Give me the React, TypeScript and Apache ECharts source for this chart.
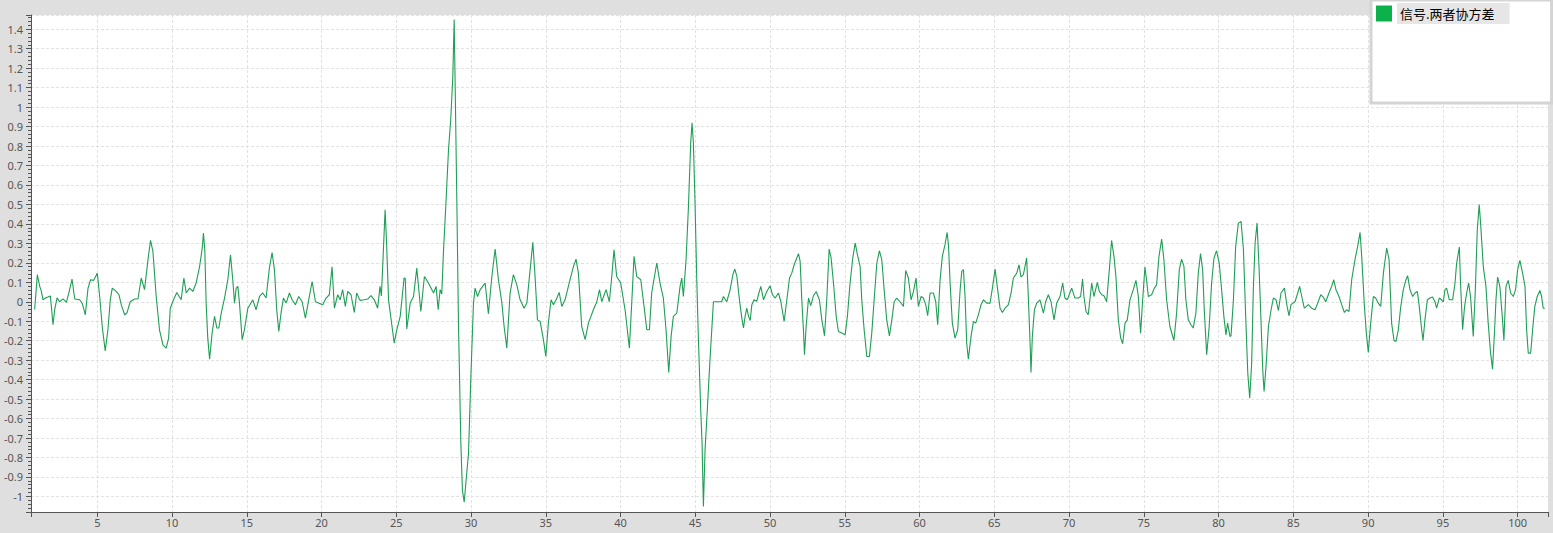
import React, { useEffect, useRef } from "react";
import * as echarts from "echarts";

// Signal samples [time, value], in segments
const segA = [[0.81,-0.04],[0.99,0.139],[1.15,0.079],[1.26,0.053],[1.37,0.01],[1.55,0.02],[1.70,0.024],[1.86,0.03],[2.04,-0.118],[2.15,-0.04],[2.31,0.02],[2.48,0],[2.71,0.015],[2.93,-0.003],[3.11,0.05],[3.31,0.116],[3.49,0.014],[3.82,0.01],[4.0,-0.01],[4.2,-0.067],[4.38,0.07],[4.55,0.113],[4.76,0.11],[5.0,0.147],[5.16,0.027],[5.33,-0.127],[5.53,-0.252],[5.71,-0.144],[5.87,0.01],[6.0,0.07],[6.27,0.053],[6.45,0.036],[6.6,-0.015],[6.83,-0.067],[6.98,-0.058],[7.2,0],[7.49,0.014],[7.72,0.014],[7.94,0.122],[8.16,0.062],[8.39,0.216],[8.56,0.315],[8.72,0.259],[8.94,0.027],[9.16,-0.144],[9.39,-0.221],[9.61,-0.238],[9.77,-0.187],[9.88,-0.033],[10.1,0.01],[10.32,0.048],[10.61,0.01],[10.79,0.122],[10.95,0.045],[11.17,0.07],[11.39,0.053],[11.61,0.096],[11.84,0.18]];
const segB = [[12.02,0.276],[12.1,0.353],[12.19,0.267],[12.28,-0.007],[12.39,-0.187],[12.51,-0.295],[12.68,-0.161],[12.84,-0.075],[13.0,-0.135],[13.13,-0.135],[13.29,-0.058],[13.51,0.019],[13.73,0.113],[13.91,0.241],[14.06,0.113],[14.18,-0.007],[14.29,0.07],[14.4,0.079],[14.51,-0.007],[14.69,-0.195],[14.84,-0.144],[15.07,-0.033],[15.4,0.01],[15.62,-0.041],[15.85,0.027],[16.07,0.045],[16.29,0.019],[16.51,0.173],[16.69,0.253],[16.85,0.164],[17.0,-0.041],[17.14,-0.152],[17.29,-0.058],[17.45,0.019],[17.63,-0.007],[17.85,0.045],[18.03,0.01],[18.25,-0.015],[18.47,0.027],[18.7,0],[18.92,-0.084],[19.14,0.01],[19.37,0.104],[19.59,0],[19.81,-0.007],[20.08,-0.015],[20.3,0.019],[20.52,0.036],[20.7,0.18],[20.86,-0.033],[21.08,0.036],[21.24,0.01],[21.41,0.062],[21.59,-0.024],[21.75,0.053],[21.97,0.036],[22.19,-0.055],[22.35,0.045],[22.57,0.007],[22.86,0.01],[23.08,0.014],[23.31,0.031],[23.53,0.01],[23.75,-0.033],[23.91,0.079]];
const segC = [[24.0,0.03],[24.1,0.2],[24.25,0.473],[24.35,0.3],[24.48,0.01],[24.86,-0.213],[25.03,-0.144],[25.26,-0.075],[25.52,0.122],[25.6,0.12],[25.7,-0.14],[25.93,-0.007],[26.15,0.027],[26.37,0.173],[26.64,-0.05],[26.88,0.13],[27.15,0.096],[27.49,0.045],[27.66,0.079],[27.8,-0.041],[27.93,0.062],[28.04,0.04],[28.16,0.267],[28.33,0.524],[28.49,0.78],[28.64,0.936],[28.78,1.159],[28.87,1.45],[28.93,1.141],[29.05,0.507],[29.16,-0.127],[29.22,-0.35],[29.31,-0.71],[29.42,-0.967],[29.54,-1.03],[29.65,-0.932],[29.83,-0.778],[29.98,-0.401],[30.16,-0.007],[30.27,0.07],[30.43,0.027],[30.61,0.062],[30.94,0.096],[31.16,-0.062],[31.39,0.13],[31.61,0.271],[31.83,0.113],[32.06,-0.007],[32.21,-0.127],[32.39,-0.238],[32.61,0.045],[32.83,0.139],[33.06,0.087],[33.28,0.01],[33.55,-0.033],[33.73,-0.007],[33.95,0.165],[34.13,0.305],[34.28,0.13],[34.44,-0.093],[34.62,-0.101],[34.84,-0.195],[35.0,-0.281],[35.17,-0.11],[35.35,0.01],[35.51,-0.015],[35.69,0.01],[35.89,0.048]];
const segD = [[36.07,-0.024],[36.29,0.01],[36.56,0.096],[36.85,0.182],[37.02,0.219],[37.18,0.147],[37.4,-0.127],[37.63,-0.195],[37.85,-0.11],[38.18,-0.041],[38.41,0],[38.59,0.062],[38.74,0],[39.03,0.062],[39.25,0],[39.41,0.13],[39.56,0.267],[39.74,0.13],[40.01,0.096],[40.3,-0.041],[40.59,-0.238],[40.75,0],[40.9,0.233],[41.08,0.13],[41.35,0.113],[41.57,-0.024],[41.75,-0.144],[41.93,-0.144],[42.08,0.045],[42.42,0.199],[42.64,0.096],[42.86,0.019],[43.04,-0.144],[43.22,-0.363],[43.38,-0.178],[43.53,-0.075],[43.76,-0.058],[43.98,0.079],[44.09,0.122],[44.2,0.027],[44.38,0.216],[44.53,0.473],[44.69,0.816],[44.78,0.919],[44.87,0.816],[44.98,0.507],[45.09,0.13],[45.2,-0.178],[45.36,-0.555],[45.45,-0.727],[45.54,-1.052],[45.65,-0.761],[45.8,-0.555],[45.98,-0.298],[46.21,0],[46.43,0],[46.76,0],[46.88,0.027],[47.1,0],[47.32,0.06],[47.51,0.139],[47.64,0.168],[47.78,0.13],[47.95,0.01]];
const segE = [[48.11,-0.084],[48.22,-0.135],[48.33,-0.075],[48.44,-0.033],[48.56,-0.075],[48.67,-0.096],[48.78,-0.015],[48.93,0.01],[49.11,0.002],[49.22,0.036],[49.38,0.079],[49.56,0.01],[49.78,0.053],[50.0,0.082],[50.16,0.036],[50.34,0.019],[50.56,0.045],[50.72,0],[50.94,-0.101],[51.12,0.01],[51.3,0.122],[51.45,0.147],[51.61,0.19],[51.74,0.216],[51.9,0.247],[52.01,0.207],[52.12,0.01],[52.23,-0.144],[52.3,-0.272],[52.41,-0.127],[52.57,0.019],[52.72,-0.02],[52.9,0.031],[53.08,0.053],[53.3,0.01],[53.46,-0.093],[53.64,-0.175],[53.79,0.01],[53.95,0.271],[54.08,0.225],[54.24,0.096],[54.42,-0.075],[54.57,-0.153],[54.8,-0.161],[55.02,-0.17],[55.17,-0.075],[55.35,0.096],[55.53,0.225],[55.69,0.302],[55.84,0.242],[56.02,0.182],[56.13,0.01],[56.29,-0.144],[56.47,-0.281],[56.64,-0.281],[56.8,-0.161],[56.96,0.01],[57.14,0.199],[57.31,0.262],[57.47,0.216],[57.63,0.062],[57.8,-0.093],[57.98,-0.175],[58.14,-0.093],[58.3,0],[58.47,0.019]];
const segF = [[58.69,0],[58.92,-0.024],[59.07,0.161],[59.25,0.122],[59.43,0.01],[59.59,0.053],[59.76,0.122],[59.92,-0.024],[60.1,0.027],[60.25,0.019],[60.41,-0.015],[60.54,-0.072],[60.7,0.045],[60.92,0.045],[61.08,0],[61.21,-0.118],[61.37,0.113],[61.52,0.233],[61.7,0.293],[61.84,0.356],[61.93,0.293],[62.04,0.096],[62.19,-0.11],[62.37,-0.187],[62.55,-0.144],[62.71,0.062],[62.82,0.156],[62.93,0.165],[63.04,0.027],[63.15,-0.213],[63.26,-0.295],[63.44,-0.178],[63.6,-0.101],[63.75,-0.11],[63.93,-0.067],[64.11,-0.015],[64.27,0.01],[64.49,-0.007],[64.71,-0.007],[64.87,0.07],[65.05,0.168],[65.22,0.062],[65.38,-0.033],[65.54,-0.055],[65.71,-0.033],[65.94,-0.015],[66.12,0.045],[66.27,0.122],[66.5,0.147],[66.65,0.19],[66.78,0.127],[66.94,0.139],[67.05,0.182],[67.16,0.225],[67.27,0.027],[67.39,-0.213],[67.45,-0.363],[67.54,-0.178],[67.68,-0.041],[67.83,-0.007],[68.05,0.01],[68.28,-0.058],[68.43,0],[68.61,0.036],[68.79,0],[68.99,-0.093],[69.17,-0.007],[69.39,0.027]];
const segG = [[69.57,0.096],[69.72,0.019],[69.88,0.01],[70.17,0.07],[70.39,0.019],[70.62,0.019],[70.77,0.027],[70.9,0.117],[70.99,0.027],[71.13,-0.05],[71.28,-0.067],[71.51,0.096],[71.66,0.027],[71.89,0.099],[72.02,0.053],[72.18,0.036],[72.33,0.031],[72.51,0],[72.69,0.165],[72.84,0.315],[73.0,0.233],[73.13,0.13],[73.29,-0.093],[73.45,-0.187],[73.58,-0.216],[73.74,-0.11],[73.89,-0.093],[74.07,0.01],[74.29,0.062],[74.47,0.11],[74.63,0.027],[74.78,-0.161],[74.92,0.01],[75.07,0.178],[75.18,0.113],[75.3,0.027],[75.52,0.036],[75.7,0.07],[75.85,0.087],[76.01,0.233],[76.19,0.322],[76.34,0.216],[76.52,0.01],[76.74,-0.127],[77.01,-0.199],[77.19,-0.058],[77.37,0.165],[77.52,0.219],[77.68,0.182],[77.81,0.01],[77.97,-0.093],[78.15,-0.118],[78.3,-0.135],[78.48,-0.058],[78.64,0.147],[78.79,0.247],[78.93,0.165],[79.04,-0.041],[79.2,-0.272],[79.37,-0.127],[79.53,0.096],[79.69,0.225],[79.86,0.262],[80.04,0.199],[80.2,0.062],[80.35,-0.075],[80.49,-0.17],[80.6,-0.11],[80.76,-0.178]];
const segH = [[80.83,-0.175],[80.99,0.01],[81.14,0.284],[81.32,0.404],[81.5,0.413],[81.66,0.267],[81.81,-0.075],[81.95,-0.367],[82.08,-0.495],[82.21,-0.315],[82.32,0.062],[82.44,0.302],[82.57,0.404],[82.7,0.182],[82.84,-0.11],[82.95,-0.35],[83.04,-0.461],[83.17,-0.332],[83.33,-0.127],[83.51,-0.041],[83.66,0.019],[83.84,0.01],[84.0,-0.045],[84.17,0.045],[84.4,0.07],[84.58,-0.024],[84.71,-0.072],[84.84,-0.015],[85.11,0],[85.29,0.045],[85.42,0.079],[85.56,0.027],[85.73,-0.033],[86.0,-0.015],[86.22,-0.033],[86.45,-0.041],[86.63,-0.007],[86.83,0.036],[87.0,0.024],[87.16,0],[87.38,0.045],[87.56,0.079],[87.7,0.113],[87.85,0.062],[88.05,0.027],[88.23,-0.015],[88.41,-0.055],[88.56,-0.041],[88.72,-0.05],[88.9,0.113],[89.12,0.216],[89.3,0.284],[89.46,0.356],[89.57,0.233],[89.75,-0.024],[89.88,-0.161],[90.01,-0.26],[90.17,-0.11],[90.35,0.027],[90.5,0.019],[90.68,-0.007],[90.84,-0.024],[91.02,0.147],[91.24,0.276],[91.4,0.216],[91.57,-0.11]];
const segI = [[91.73,-0.199],[91.86,-0.204],[92.02,-0.144],[92.17,-0.033],[92.35,0.062],[92.53,0.113],[92.64,0.134],[92.8,0.062],[92.98,0.027],[93.13,0.045],[93.29,0.053],[93.42,-0.024],[93.58,-0.144],[93.67,-0.199],[93.8,-0.093],[93.96,0.01],[94.13,0.019],[94.31,0.024],[94.47,0],[94.58,-0.033],[94.76,0.019],[94.91,0.01],[95.03,0],[95.14,0.062],[95.25,0.07],[95.43,0.01],[95.65,0.01],[95.81,0.096],[95.92,0.199],[96.1,0.281],[96.18,0.096],[96.32,-0.144],[96.45,-0.024],[96.59,0.045],[96.72,0.096],[96.85,0.027],[97.03,-0.178],[97.17,0.062],[97.3,0.37],[97.43,0.499],[97.52,0.404],[97.7,0.182],[97.88,0.079],[98.03,-0.11],[98.19,-0.264],[98.32,-0.346],[98.46,-0.144],[98.55,0.01],[98.66,0.127],[98.81,0.079],[98.97,-0.075],[99.08,-0.199],[99.22,0.079],[99.37,0.11],[99.53,0.045],[99.71,0.027],[99.86,0.062],[100.0,0.165],[100.15,0.213],[100.33,0.147],[100.49,0.079],[100.6,-0.144],[100.71,-0.264],[100.87,-0.264],[101.0,-0.144],[101.15,-0.024],[101.31,0.027],[101.49,0.058],[101.6,0.027],[101.71,-0.033],[101.82,-0.033]];

const seriesName = "信号.两者协方差";
const xRange = [0.566, 102.03];
const yRange = [-1.08, 1.473];

export default function App() {
  const ref = useRef<HTMLDivElement>(null);

  useEffect(() => {
    if (!ref.current) return;
    const chart = echarts.init(ref.current, null, { renderer: "svg" });
    const data = [...segA, ...segB, ...segC, ...segD, ...segE, ...segF, ...segG, ...segH, ...segI];
    const axisColor = "#555555";
    const gridLine = { show: true, lineStyle: { color: "#e2e2e2", type: [3, 2], width: 1 } };

    chart.setOption({
      animation: false,
      backgroundColor: "#dfdfdf",
      grid: {
        left: 31,
        right: 5,
        top: 15,
        bottom: 21,
        show: true,
        backgroundColor: "#ffffff",
        borderWidth: 0,
        containLabel: false,
      },
      legend: {
        left: 1371,
        top: 0,
        orient: "vertical",
        icon: "rect",
        itemWidth: 16,
        itemHeight: 16,
        selectedMode: false,
        padding: [3, 42, 79, 5],
        backgroundColor: "#ffffff",
        borderColor: "#d4d4d4",
        borderWidth: 3,
        data: [seriesName],
        textStyle: {
          color: "#000000",
          fontSize: 13,
          fontFamily: "Noto Sans CJK SC",
          backgroundColor: "#e6e6e6",
          padding: [4, 15, 4, 3],
        },
      },
      xAxis: {
        type: "value",
        min: xRange[0],
        max: xRange[1],
        splitNumber: 20,
        axisLine: { show: true, onZero: false, lineStyle: { color: axisColor, width: 1 } },
        axisTick: { show: true, length: 5, lineStyle: { color: axisColor } },
        axisLabel: {
          color: "#555555",
          fontSize: 11,
          fontFamily: "Noto Sans",
          margin: 5,
          formatter: (v: number) => {
            const r = Math.round(v / 5) * 5;
            return Math.abs(v - r) < 1e-6 && r > 0 ? String(r) : "";
          },
        },
        splitLine: gridLine,
      },
      yAxis: {
        type: "value",
        min: yRange[0],
        max: yRange[1],
        splitNumber: 26,
        axisLine: { show: true, onZero: false, lineStyle: { color: axisColor, width: 1 } },
        axisTick: { show: true, length: 5, lineStyle: { color: axisColor } },
        minorTick: { show: true, splitNumber: 5, length: 3, lineStyle: { color: axisColor } },
        axisLabel: {
          color: "#555555",
          fontSize: 11,
          fontFamily: "Noto Sans",
          margin: 8,
          formatter: (v: number) => {
            const r = Math.round(v * 10) / 10;
            if (Math.abs(v - r) > 1e-6) return "";
            return String(r === 0 ? 0 : r);
          },
        },
        splitLine: gridLine,
      },
      series: [
        {
          name: seriesName,
          type: "line",
          data,
          symbol: "none",
          showSymbol: false,
          clip: true,
          itemStyle: { color: "#0db14b" },
          lineStyle: { color: "#1f9e55", width: 1.1 },
        },
      ],
    });

    return () => chart.dispose();
  }, []);

  return (
    <div
      ref={ref}
      style={{ position: "absolute", left: 0, top: 0, width: 1553, height: 533 }}
    />
  );
}
